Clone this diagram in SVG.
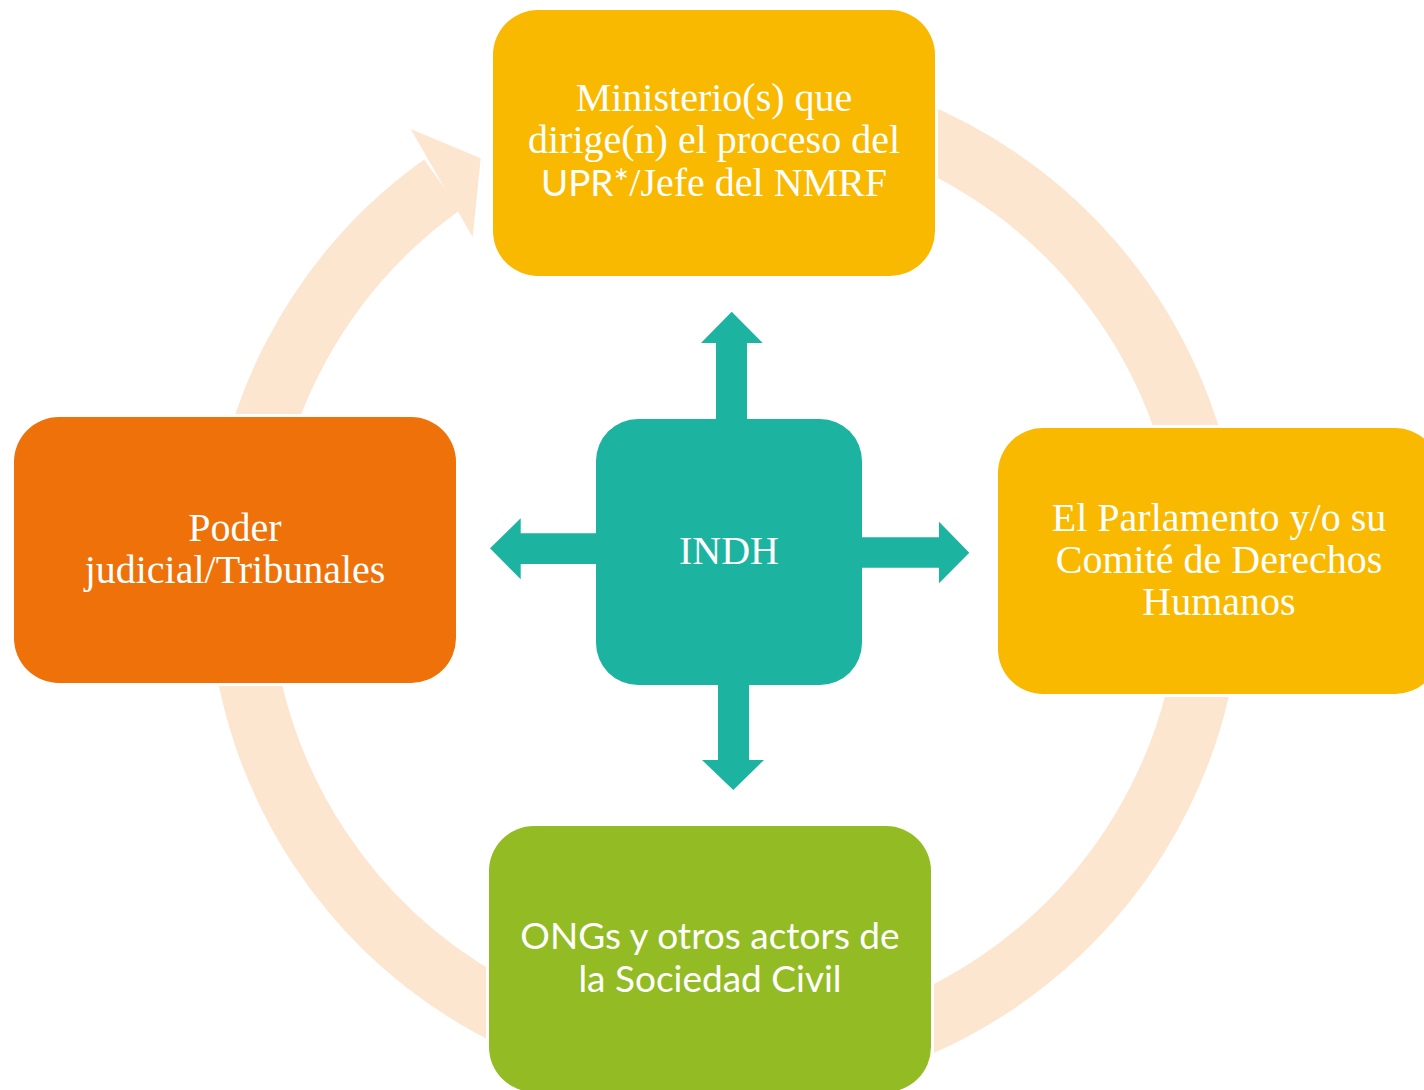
<svg xmlns="http://www.w3.org/2000/svg" width="1424" height="1090" viewBox="0 0 1424 1090">
  <style>
    .ring { fill: none; stroke: #FDE6D0; stroke-width: 62; }
    .ringhead { fill: #FDE6D0; }
    .box { stroke: #FFFFFF; stroke-width: 6; paint-order: stroke; }
    .gold { fill: #F9B900; }
    .orange { fill: #EE710A; }
    .green { fill: #93BC24; }
    .teal { fill: #1CB4A0; }
    .serif { font-family: "Liberation Serif", "Times New Roman", serif; font-size: 40px; fill: #FFFFFF; text-anchor: middle; }
    .sans { font-family: Lato, "Open Sans", sans-serif; font-size: 37px; fill: #FFFFFF; text-anchor: middle; }
    .arrow { fill: #1CB4A0; }
  </style>
  <rect width="1424" height="1090" fill="#FFFFFF"/>
  <g id="connectors">
    <path class="ring" d="M 558.8 123.3 A 486 486 0 1 1 442.1 184.8"/>
    <polygon class="ringhead" points="410.7,129 480.7,158.3 472.7,237.3"/>
    <polygon class="arrow" points="716,430 716,343 701,343 731.7,311.7 762.7,343 747,343 747,430"/>
    <polygon class="arrow" points="718,670 718,760 702,760 733.3,790 764,760 749,760 749,670"/>
    <polygon class="arrow" points="610,533.3 520.7,533.3 520.7,518.3 490,548.3 520.7,579.3 520.7,564 610,564"/>
    <polygon class="arrow" points="850,537.3 939,537.3 939,521.7 969.3,552.7 939,583.3 939,567.7 850,567.7"/>
  </g>
  <g id="node-ministerio">
    <rect class="box gold" x="493" y="10" width="442" height="266" rx="45" ry="45"/>
    <text class="serif" x="714" y="111">Ministerio(s) que</text>
    <text class="serif" x="714" y="153">dirige(n) el proceso del</text>
    <text class="serif" x="714" y="196"><tspan class="sans" style="font-size:37px">UPR*</tspan>/Jefe del NMRF</text>
  </g>
  <g id="node-parlamento">
    <rect class="box gold" x="998" y="428" width="442" height="266" rx="45" ry="45"/>
    <text class="serif" x="1219" y="531">El Parlamento y/o su</text>
    <text class="serif" x="1219" y="573">Comité de Derechos</text>
    <text class="serif" x="1219" y="615">Humanos</text>
  </g>
  <g id="node-poder">
    <rect class="box orange" x="14" y="417" width="442" height="266" rx="45" ry="45"/>
    <text class="serif" x="235" y="541">Poder</text>
    <text class="serif" x="235" y="583">judicial/Tribunales</text>
  </g>
  <g id="node-ongs">
    <rect class="box green" x="489" y="826" width="442" height="266" rx="45" ry="45"/>
    <text class="sans" x="710" y="949">ONGs y otros actors de</text>
    <text class="sans" x="710" y="992">la Sociedad Civil</text>
  </g>
  <g id="node-indh">
    <rect class="teal" x="596" y="419" width="266" height="266" rx="42" ry="42"/>
    <text class="serif" x="729" y="564">INDH</text>
  </g>
</svg>
